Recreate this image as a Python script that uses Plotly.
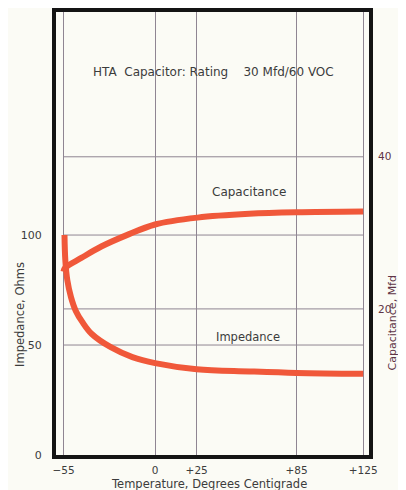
import plotly.graph_objects as go

# ---- data ----
imp_temp = [-54.4, -53.9, -52.7, -50.5, -47.6, -43.7, -38.0, -26.6, -13.6, 0, 25, 56.6, 85, 125]
imp_ohms = [100, 88.6, 79.5, 71.8, 65.5, 60.5, 55.0, 49.0, 44.5, 41.8, 39.0, 38.0, 37.3, 36.9]

cap_temp = [-55, -54, -44.3, -32.3, -17, 0, 25.5, 56.6, 85, 125]
cap_mfd = [24.9, 25.4, 26.7, 28.2, 29.7, 31.1, 32.0, 32.5, 32.7, 32.8]

x_ticks = [-55, 0, 25, 85, 125]
x_ticktext = ["\u221255", "0", "+25", "+85", "+125"]
left_ticks = [0, 50, 100]
right_ticks = [20, 40]

CURVE = "#f0583a"
GRID = "#8f8592"
TEXT = "#3c3c3c"
RTEXT = "#5e3446"
FONT = "DejaVu Sans"
BG = "#fbfbf5"

fig = go.Figure()
fig.add_trace(go.Scatter(x=imp_temp, y=imp_ohms, mode="lines",
                         line=dict(color=CURVE, width=6, shape="spline"),
                         yaxis="y", showlegend=False, hoverinfo="skip"))
fig.add_trace(go.Scatter(x=cap_temp, y=cap_mfd, mode="lines",
                         line=dict(color=CURVE, width=6, shape="spline"),
                         yaxis="y2", showlegend=False, hoverinfo="skip"))

shapes = []
# horizontal grid lines spanning between the -55 and +125 verticals
for v in left_ticks[1:]:
    shapes.append(dict(type="line", xref="x", yref="y", x0=x_ticks[0], x1=x_ticks[-1],
                       y0=v, y1=v, line=dict(color=GRID, width=1), layer="below"))
for v in right_ticks:
    shapes.append(dict(type="line", xref="x", yref="y2", x0=x_ticks[0], x1=x_ticks[-1],
                       y0=v, y1=v, line=dict(color=GRID, width=1), layer="below"))
# heavy frame
shapes.append(dict(type="rect", xref="paper", yref="paper", x0=0, x1=1, y0=0, y1=1,
                   line=dict(color="#141414", width=4)))


def note(text, x, y, size=11.5, color=TEXT, angle=0):
    return dict(text=text, xref="paper", yref="paper", x=x, y=y, xanchor="center",
                yanchor="middle", textangle=angle, showarrow=False,
                font=dict(family=FONT, size=size, color=color))


annotations = [
    note("HTA  Capacitor: Rating    30 Mfd/60 VOC", 0.502, 0.861, size=12),
    note("Capacitance", 0.615, 0.593, size=12),
    note("Impedance", 0.612, 0.268),
    note("Impedance, Ohms", -0.107, 0.318, angle=-90),
    note("Capacitance, Mfd", 1.068, 0.30, size=11, color=RTEXT, angle=-90),
    note("Temperature, Degrees Centigrade", 0.49, -0.06),
]

# the page body adds an 8 px offset, so the figure is sized to fit the 406x490 window
fig.update_layout(
    width=398, height=482,
    margin=dict(l=46, r=35, t=2, b=33, autoexpand=False),
    paper_bgcolor=BG, plot_bgcolor=BG,
    font=dict(family=FONT, size=11, color=TEXT),
    xaxis=dict(range=[-60.7, 129.7], tickvals=x_ticks, ticktext=x_ticktext,
               showgrid=True, gridcolor=GRID, gridwidth=1, zeroline=False,
               showline=False, ticks="outside", ticklen=3, tickcolor="rgba(0,0,0,0)",
               automargin=False, tickfont=dict(size=10.5, color=TEXT)),
    yaxis=dict(range=[-0.9, 202.3], tickvals=left_ticks, showgrid=False, zeroline=False,
               showline=False, ticks="outside", ticklen=9, tickcolor="rgba(0,0,0,0)",
               automargin=False, tickfont=dict(size=11, color=TEXT)),
    yaxis2=dict(range=[0.53, 59.3], tickvals=right_ticks, overlaying="y", side="right",
                showgrid=False, zeroline=False, showline=False,
                ticks="outside", ticklen=4, tickcolor="rgba(0,0,0,0)",
                automargin=False, tickfont=dict(size=10.5, color=RTEXT)),
    shapes=shapes, annotations=annotations,
)

fig.write_html("out.html")
